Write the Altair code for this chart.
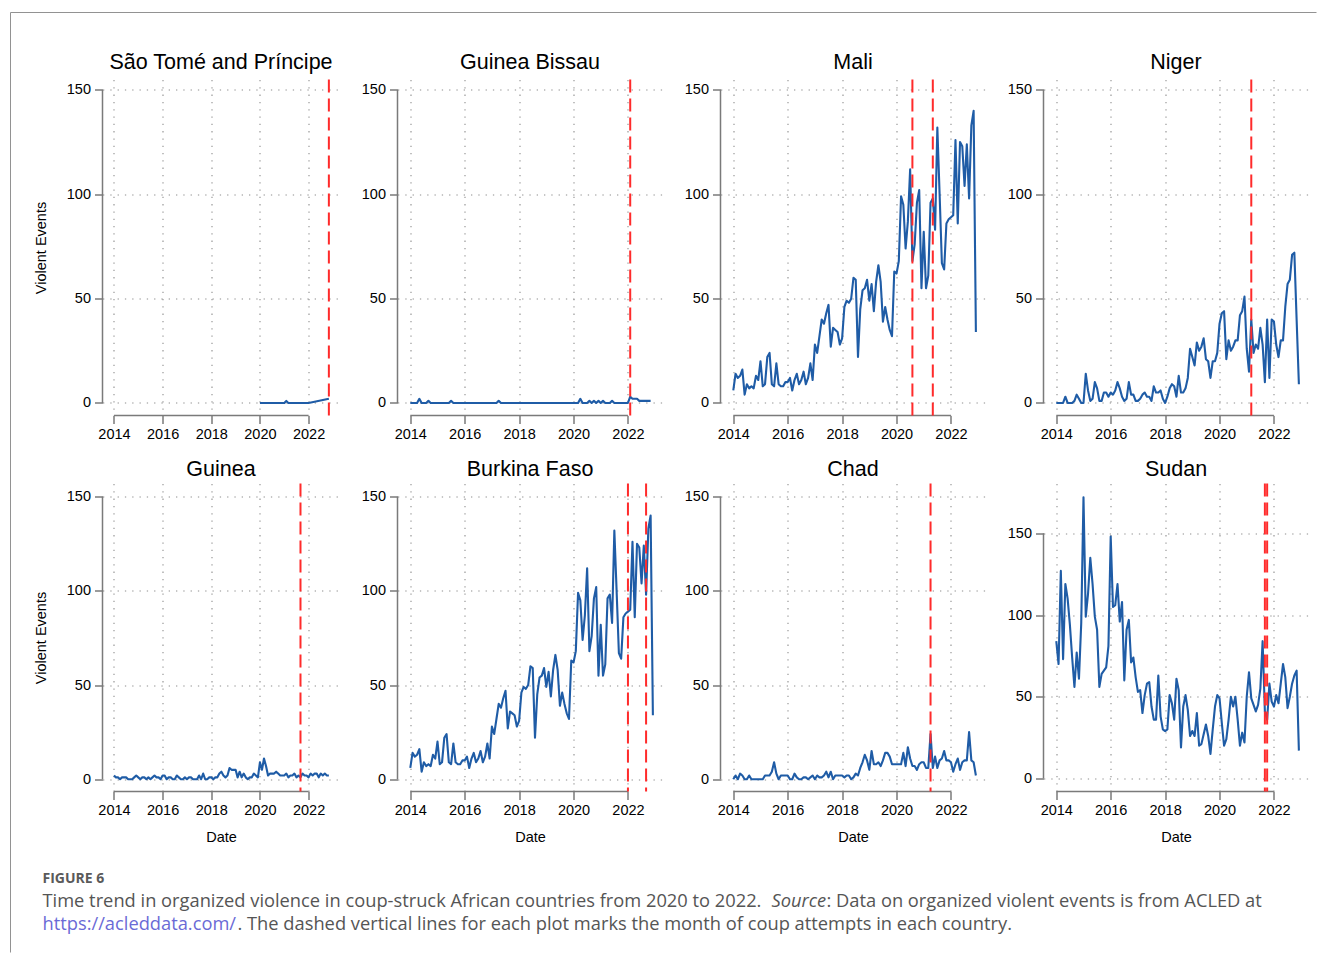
import altair as alt
import pandas as pd

FONT = "Liberation Sans"
BLUE = "#1f5ca6"
RED = "#ff2b2b"
AXIS_GRAY = "#7a7a7a"
GRID_GRAY = "#8e8e8e"

COUNTRIES = ["São Tomé and Príncipe", "Guinea Bissau", "Mali", "Niger",
             "Guinea", "Burkina Faso", "Chad", "Sudan"]
START_YEAR = [2020, 2014, 2014, 2014, 2014, 2014, 2014, 2014]

# monthly counts of organized violent events
SAO_TOME = [0, 0, 0, 0, 0, 0, 0, 0, 0, 0, 0, 0,
            0, 1, 0, 0, 0, 0, 0, 0, 0, 0, 0, 0,
            0, None, None, None, None, None, None, None, None, None, 2]

GUINEA_BISSAU = [0, 0, 0, 0, 2, 0, 0, 0, 1, 0, 0, 0,
                 0, 0, 0, 0, 0, 0, 1, 0, 0, 0, 0, 0,
                 0, 0, 0, 0, 0, 0, 0, 0, 0, 0, 0, 0,
                 0, 0, 0, 1, 0, 0, 0, 0, 0, 0, 0, 0,
                 0, 0, 0, 0, 0, 0, 0, 0, 0, 0, 0, 0,
                 0, 0, 0, 0, 0, 0, 0, 0, 0, 0, 0, 0,
                 0, 0, 0, 2, 0, 0, 0, 1, 0, 1, 0, 1,
                 0, 1, 0, 0, 0, 1, 0, 0, 0, 0, 0, 0,
                 0, 3, 2, 2, 2, 1, 1, 1, 1, 1, 1]

BURKINA_FASO = [6, 14, 12, 13, 16, 4, 9, 7, 8, 7, 13, 11,
                20, 8, 9, 22, 24, 9, 8, 19, 9, 8, 8, 10,
                10, 12, 6, 11, 14, 9, 11, 15, 9, 12, 19, 11,
                28, 24, 32, 40, 38, 43, 47, 27, 36, 35, 34, 28,
                31, 46, 49, 48, 50, 60, 59, 22, 45, 54, 55, 59,
                49, 57, 44, 58, 66, 58, 39, 46, 40, 35, 32, 63,
                62, 68, 99, 95, 74, 87, 112, 68, 76, 96, 102, 55,
                82, 55, 61, 96, 98, 83, 132, 100, 67, 64, 86, 88,
                89, 90, 126, 86, 125, 123, 104, 124, 98, 133, 140, 34]

# the Mali panel of the figure shows the same series as Burkina Faso
MALI = [6, 14, 12, 13, 16, 4, 9, 7, 8, 7, 13, 11,
        20, 8, 9, 22, 24, 9, 8, 19, 9, 8, 8, 10,
        10, 12, 6, 11, 14, 9, 11, 15, 9, 12, 19, 11,
        28, 24, 32, 40, 38, 43, 47, 27, 36, 35, 34, 28,
        31, 46, 49, 48, 50, 60, 59, 22, 45, 54, 55, 59,
        49, 57, 44, 58, 66, 58, 39, 46, 40, 35, 32, 63,
        62, 68, 99, 95, 74, 87, 112, 68, 76, 96, 102, 55,
        82, 55, 61, 96, 98, 83, 132, 100, 67, 64, 86, 88,
        89, 90, 126, 86, 125, 123, 104, 124, 98, 133, 140, 34]

NIGER = [0, 0, 0, 0, 3, 0, 0, 0, 1, 4, 2, 0,
         0, 14, 6, 1, 2, 10, 7, 1, 1, 5, 5, 3,
         5, 4, 6, 10, 7, 3, 1, 2, 10, 4, 4, 1,
         1, 2, 4, 5, 3, 3, 1, 8, 5, 5, 6, 2,
         0, 3, 7, 9, 8, 3, 13, 5, 5, 7, 12, 26,
         22, 18, 29, 25, 27, 31, 21, 20, 12, 20, 20, 24,
         38, 43, 44, 21, 30, 25, 27, 30, 30, 42, 44, 51,
         26, 15, 40, 24, 28, 26, 36, 28, 10, 40, 12, 40,
         39, 28, 22, 30, 30, 46, 57, 59, 71, 72, 40, 9]

GUINEA = [2, 1, 1, 0, 1, 1, 1, 0, 0, 0, 1, 2,
          1, 0, 1, 1, 0, 1, 0, 1, 2, 1, 1, 0,
          2, 2, 0, 1, 1, 0, 0, 2, 1, 0, 0, 1,
          0, 1, 1, 0, 0, 0, 2, 0, 3, 0, 0, 1,
          1, 0, 1, 1, 3, 4, 2, 1, 2, 6, 5, 5,
          5, 1, 4, 1, 3, 1, 0, 1, 1, 3, 2, 1,
          9, 5, 11, 7, 2, 3, 3, 3, 4, 3, 2, 2,
          2, 3, 1, 2, 2, 3, 1, 2, 1, 3, 2, 2,
          1, 3, 2, 3, 3, 1, 3, 2, 3, 2, 2]

CHAD = [0, 2, 0, 3, 2, 0, 0, 2, 0, 0, 0, 0,
        0, 0, 2, 2, 2, 4, 9, 3, 0, 2, 2, 2,
        2, 0, 0, 3, 1, 0, 0, 1, 1, 0, 1, 2,
        0, 2, 1, 1, 2, 4, 1, 4, 0, 2, 2, 2,
        2, 1, 2, 2, 0, 1, 3, 2, 6, 9, 13, 10,
        5, 15, 8, 8, 9, 7, 10, 14, 14, 12, 8, 8,
        8, 8, 8, 14, 7, 17, 11, 7, 7, 5, 8, 9,
        9, 6, 6, 24, 6, 12, 6, 10, 11, 15, 10, 10,
        9, 4, 8, 11, 5, 9, 10, 10, 25, 10, 9, 2]

SUDAN = [84, 70, 127, 73, 119, 110, 94, 74, 56, 77, 61, 95,
         172, 99, 113, 135, 119, 99, 91, 56, 64, 66, 68, 81,
         148, 105, 106, 119, 96, 108, 60, 91, 97, 71, 74, 62,
         53, 54, 40, 51, 58, 59, 44, 36, 36, 63, 38, 30,
         29, 30, 51, 46, 36, 61, 54, 19, 44, 51, 42, 26,
         29, 26, 40, 20, 21, 27, 33, 26, 15, 30, 44, 51,
         49, 34, 20, 24, 36, 50, 44, 50, 36, 20, 28, 22,
         50, 65, 49, 45, 41, 45, 55, 84, 41, 36, 58, 47,
         44, 51, 46, 58, 70, 62, 43, 50, 58, 63, 66, 17]

SERIES = [SAO_TOME, GUINEA_BISSAU, MALI, NIGER, GUINEA, BURKINA_FASO, CHAD, SUDAN]

# coup attempts (year, month)
COUPS = [[(2022, 11)], [(2022, 2)], [(2020, 8), (2021, 5)], [(2021, 3)],
         [(2021, 9)], [(2022, 1), (2022, 9)], [(2021, 4)], [(2021, 9), (2021, 10)]]

X_DOMAIN = [2013.53, 2023.27]
X_TICKS = [2014, 2016, 2018, 2020, 2022]
Y_TICKS = [0, 50, 100, 150]
Y_DOMAIN_ROW = [[-6, 155], [-6.5, 157]]
Y_DOMAIN_SUDAN = [-8, 180.5]
PANEL_W = [237, 265, 265, 265]
PANEL_H = [336, 308]
TITLE_OFFSET = [11, 8]


def series_frame(start, vals):
    rows = []
    for i, v in enumerate(vals):
        if v is None:
            continue
        rows.append({"t": start + i / 12.0, "v": v})
    return pd.DataFrame(rows)


def panel(idx):
    name = COUNTRIES[idx]
    row, col = divmod(idx, 4)
    W, H = PANEL_W[col], PANEL_H[row]
    ydom = Y_DOMAIN_SUDAN if name == "Sudan" else Y_DOMAIN_ROW[row]

    xkw = dict(values=X_TICKS, format="d")
    if row == 1:
        xkw.update(title="Date", titleY=46, titleBaseline="middle")
    else:
        xkw.update(title=None)
    ykw = dict(values=Y_TICKS, format="d")
    if col == 0:
        ykw.update(title="Violent Events", titleX=-61, titleY=H / 2,
                   titleAngle=270, titleAlign="center", titleBaseline="middle")
    else:
        ykw.update(title=None)

    X = alt.X("t:Q", scale=alt.Scale(domain=X_DOMAIN, nice=False, zero=False),
              axis=alt.Axis(**xkw))
    Y = alt.Y("v:Q", scale=alt.Scale(domain=ydom, nice=False, zero=False),
              axis=alt.Axis(**ykw))

    df = series_frame(START_YEAR[idx], SERIES[idx])
    line = alt.Chart(df).mark_line(color=BLUE, strokeWidth=2.1, strokeJoin="round").encode(x=X, y=Y)

    xline = alt.Chart(pd.DataFrame({"t": [X_TICKS[0]], "t2": [X_TICKS[-1]]})).mark_rule(
        color=AXIS_GRAY, strokeWidth=1.5).encode(x=X, x2="t2:Q", y=alt.value(H))
    yline = alt.Chart(pd.DataFrame({"v": [Y_TICKS[0]], "v2": [Y_TICKS[-1]]})).mark_rule(
        color=AXIS_GRAY, strokeWidth=1.5).encode(y=Y, y2="v2:Q", x=alt.value(0))

    cdf = pd.DataFrame({"t": [y + (m - 1) / 12.0 for (y, m) in COUPS[idx]]})
    coups = alt.Chart(cdf).mark_rule(color=RED, strokeWidth=2, strokeDash=[13, 6]).encode(
        x=X, y=alt.value(0), y2=alt.value(H))

    return alt.layer(line, xline, yline, coups).properties(
        width=W, height=H,
        title=alt.TitleParams(text=name, font=FONT, fontSize=21.5, fontWeight="normal",
                              color="black", anchor="middle", baseline="alphabetic",
                              offset=TITLE_OFFSET[row], dy=23))


panels = [panel(i) for i in range(8)]

# caption block (figure label + legend text) and the figure frame
CAP_FONT = "Open Sans"
CAP_GRAY = "#555555"
LINK = "#6a6ad6"
CAP_SIZE = 18.3
CAPTION = [
    ("FIGURE 6", -60, 23, 14, "bold", "normal", "#5a5a5a"),
    ("Time trend in organized violence in coup-struck African countries from 2020 to 2022.",
     -60, 47, CAP_SIZE, "normal", "normal", CAP_GRAY),
    ("Source", 669, 47, CAP_SIZE, "normal", "italic", CAP_GRAY),
    (": Data on organized violent events is from ACLED at", 724, 47, CAP_SIZE, "normal", "normal", CAP_GRAY),
    ("https://acleddata.com/", -60, 70, CAP_SIZE, "normal", "normal", LINK),
    (". The dashed vertical lines for each plot marks the month of coup attempts in each country.",
     135, 70, CAP_SIZE, "normal", "normal", CAP_GRAY),
]

cap_layers = []
one = pd.DataFrame({"k": [0]})
cap_layers.append(alt.Chart(one).mark_rule(color="#929292", strokeWidth=1).encode(
    x=alt.value(-92), y=alt.value(-847), y2=alt.value(93)))
cap_layers.append(alt.Chart(one).mark_rule(color="#929292", strokeWidth=1).encode(
    y=alt.value(-847), x=alt.value(-92), x2=alt.value(1214)))
for (txt, px, py, fs, fw, fst, colr) in CAPTION:
    cap_layers.append(
        alt.Chart(pd.DataFrame({"s": [txt]})).mark_text(
            align="left", baseline="alphabetic", font=CAP_FONT, fontSize=fs,
            fontWeight=fw, fontStyle=fst, color=colr).encode(
            text="s:N", x=alt.value(px), y=alt.value(py)))
caption = alt.layer(*cap_layers).properties(width=237, height=60)

chart = alt.concat(
    *panels, caption, columns=4,
    spacing={"row": 68, "column": 58}, bounds="flush", align="each",
    padding={"left": 9.5, "top": 11.5, "right": 0, "bottom": 0},
).configure_view(strokeWidth=0).configure_axis(
    domain=False, grid=True, gridColor=GRID_GRAY, gridDash=[1.3, 6], gridWidth=1.1,
    ticks=True, tickColor=AXIS_GRAY, tickWidth=1.5, tickSize=8,
    labelFont=FONT, labelFontSize=14.5, labelColor="black", labelPadding=4,
    labelFlush=False, labelOverlap=False,
    titleFont=FONT, titleFontSize=14.5, titleFontWeight="normal", titleColor="black",
)

chart.save("out.html", embed_options={"renderer": "svg", "actions": False})
